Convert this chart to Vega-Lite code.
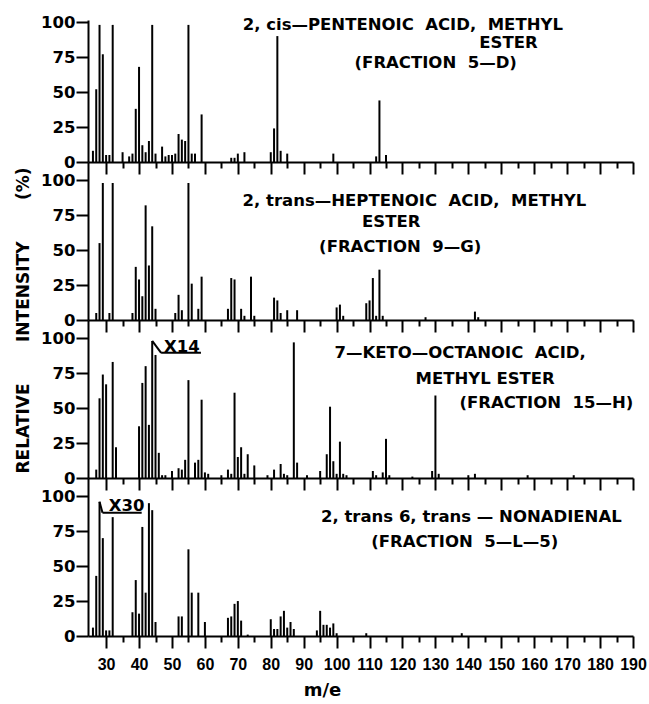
{
  "$schema": "https://vega.github.io/schema/vega-lite/v6.json",
  "padding": {"top": 14, "left": 13, "right": 0, "bottom": 5},
  "background": "white",
  "spacing": 0,
  "bounds": "flush",
  "config": {
    "view": {"stroke": null},
    "font": "DejaVu Sans",
    "axis": {"domainColor": "black", "domainWidth": 2, "tickColor": "black", "tickWidth": 2, "labelColor": "black", "labelFont": "DejaVu Sans", "labelFontWeight": "bold", "titleFont": "DejaVu Sans", "titleFontWeight": "bold", "titleColor": "black", "grid": false, "labelFlush": false},
    "text": {"font": "DejaVu Sans", "fontWeight": "bold", "fontSize": 16.5, "color": "black", "align": "center", "baseline": "middle"},
    "rule": {"color": "black"}
  },
  "datasets": {
    "p1": [{"m":26,"i":8},{"m":27,"i":52},{"m":28,"i":98},{"m":29,"i":77},{"m":30,"i":5},{"m":31,"i":5},{"m":32,"i":98},{"m":35,"i":7},{"m":37,"i":4},{"m":38,"i":6},{"m":39,"i":38},{"m":40,"i":68},{"m":41,"i":12},{"m":42,"i":7},{"m":43,"i":15},{"m":44,"i":98},{"m":45,"i":6},{"m":47,"i":11},{"m":48,"i":4},{"m":49,"i":5},{"m":50,"i":5},{"m":51,"i":6},{"m":52,"i":20},{"m":53,"i":16},{"m":54,"i":15},{"m":55,"i":98},{"m":56,"i":6},{"m":57,"i":6},{"m":59,"i":34},{"m":68,"i":3},{"m":69,"i":3},{"m":70,"i":6},{"m":72,"i":7},{"m":80,"i":7},{"m":81,"i":24},{"m":82,"i":90},{"m":83,"i":8},{"m":85,"i":6},{"m":99,"i":6},{"m":112,"i":4},{"m":113,"i":44},{"m":115,"i":5}],
    "p2": [{"m":27,"i":5},{"m":28,"i":55},{"m":29,"i":98},{"m":31,"i":5},{"m":32,"i":98},{"m":38,"i":5},{"m":39,"i":38},{"m":40,"i":29},{"m":41,"i":17},{"m":42,"i":82},{"m":43,"i":39},{"m":44,"i":67},{"m":45,"i":8},{"m":51,"i":5},{"m":52,"i":18},{"m":53,"i":7},{"m":55,"i":98},{"m":56,"i":26},{"m":58,"i":8},{"m":59,"i":31},{"m":67,"i":8},{"m":68,"i":30},{"m":69,"i":29},{"m":71,"i":8},{"m":72,"i":3},{"m":74,"i":31},{"m":75,"i":3},{"m":81,"i":16},{"m":82,"i":14},{"m":83,"i":5},{"m":85,"i":7},{"m":88,"i":7},{"m":100,"i":9},{"m":101,"i":11},{"m":102,"i":3},{"m":109,"i":12},{"m":110,"i":14},{"m":111,"i":30},{"m":112,"i":3},{"m":113,"i":36},{"m":114,"i":3},{"m":127,"i":2},{"m":142,"i":6},{"m":143,"i":2}],
    "p3": [{"m":27,"i":6},{"m":28,"i":57},{"m":29,"i":74},{"m":30,"i":67},{"m":32,"i":83},{"m":33,"i":22},{"m":40,"i":37},{"m":41,"i":68},{"m":42,"i":80},{"m":43,"i":38},{"m":44,"i":98},{"m":45,"i":88},{"m":46,"i":18},{"m":47,"i":2},{"m":48,"i":2},{"m":50,"i":5},{"m":52,"i":7},{"m":53,"i":6},{"m":54,"i":13},{"m":55,"i":70},{"m":57,"i":11},{"m":58,"i":13},{"m":59,"i":56},{"m":60,"i":4},{"m":61,"i":3},{"m":65,"i":2},{"m":67,"i":6},{"m":68,"i":3},{"m":69,"i":61},{"m":70,"i":15},{"m":71,"i":22},{"m":72,"i":3},{"m":73,"i":17},{"m":75,"i":9},{"m":79,"i":2},{"m":81,"i":6},{"m":83,"i":10},{"m":84,"i":3},{"m":85,"i":2},{"m":87,"i":97},{"m":88,"i":11},{"m":91,"i":2},{"m":95,"i":5},{"m":97,"i":17},{"m":98,"i":51},{"m":99,"i":12},{"m":100,"i":3},{"m":101,"i":26},{"m":102,"i":3},{"m":103,"i":2},{"m":111,"i":5},{"m":112,"i":2},{"m":114,"i":4},{"m":115,"i":28},{"m":116,"i":2},{"m":123,"i":1},{"m":129,"i":5},{"m":130,"i":59},{"m":131,"i":3},{"m":140,"i":2},{"m":142,"i":3},{"m":158,"i":2},{"m":172,"i":2}],
    "p4": [{"m":26,"i":6},{"m":27,"i":43},{"m":28,"i":96},{"m":29,"i":70},{"m":30,"i":4},{"m":31,"i":4},{"m":32,"i":85},{"m":38,"i":17},{"m":39,"i":40},{"m":40,"i":16},{"m":41,"i":78},{"m":42,"i":31},{"m":43,"i":95},{"m":44,"i":90},{"m":45,"i":10},{"m":52,"i":14},{"m":53,"i":14},{"m":55,"i":62},{"m":56,"i":31},{"m":58,"i":31},{"m":60,"i":10},{"m":67,"i":13},{"m":68,"i":14},{"m":69,"i":23},{"m":70,"i":25},{"m":71,"i":11},{"m":73,"i":1},{"m":80,"i":12},{"m":81,"i":5},{"m":82,"i":5},{"m":83,"i":14},{"m":84,"i":18},{"m":85,"i":6},{"m":86,"i":10},{"m":87,"i":5},{"m":94,"i":4},{"m":95,"i":18},{"m":96,"i":8},{"m":97,"i":8},{"m":98,"i":6},{"m":99,"i":9},{"m":100,"i":2},{"m":109,"i":2},{"m":138,"i":2}],
    "t1": [{"m":120.1,"i":98.2,"label":"2, cis—PENTENOIC\u00a0 ACID,\u00a0 METHYL"},{"m":152.2,"i":84.8,"label":"ESTER"},{"m":130.1,"i":71,"label":"(FRACTION\u00a0 5—D)"}],
    "t2": [{"m":123.6,"i":85.3,"label":"2, trans—HEPTENOIC\u00a0 ACID,\u00a0 METHYL"},{"m":116.6,"i":70.3,"label":"ESTER"},{"m":119.3,"i":52.3,"label":"(FRACTION\u00a0 9—G)"}],
    "t3": [{"m":137.5,"i":89.6,"label":"7—KETO—OCTANOIC\u00a0 ACID,"},{"m":145.1,"i":71,"label":"METHYL ESTER"},{"m":163.7,"i":53.8,"label":"(FRACTION\u00a0 15—H)"},{"m":53,"i":93.5,"label":"X14"}],
    "t4": [{"m":140.9,"i":85.3,"label":"2, trans 6, trans — NONADIENAL"},{"m":138.9,"i":67.4,"label":"(FRACTION\u00a0 5—L—5)"},{"m":36.2,"i":93.2,"label":"X30"}],
    "a3": [{"m":44,"i":98,"m2":46.7,"i2":89.5},{"m":46.7,"i":89.5,"m2":58.8,"i2":89.5}],
    "a4": [{"m":28,"i":96,"m2":28.9,"i2":88.2},{"m":28.9,"i":88.2,"m2":40.8,"i2":88.2}]
  },
  "vconcat": [
    {
      "width": 545, "height": 142,
      "encoding": {
        "x": {"field": "m", "type": "quantitative", "scale": {"domain": [24.5, 190], "nice": false, "zero": false},
              "axis": {"values": [30,35,40,45,50,55,60,65,70,75,80,85,90,95,100,105,110,115,120,125,130,135,140,145,150,155,160,165,170,175,180,185,190], "labels": false, "title": null, "tickSize": {"condition": {"test": "datum.value % 10 === 0", "value": 12}, "value": 6}}},
        "y": {"field": "i", "type": "quantitative", "scale": {"domain": [0, 101.5], "nice": false},
              "axis": {"values": [0,25,50,75,100], "tickSize": 12, "labelPadding": 1, "labelFontSize": 16.5, "title": null}}
      },
      "layer": [
        {"data": {"name": "p1"}, "mark": {"type": "rule", "strokeWidth": 2}, "encoding": {"y2": {"datum": 0}}},
        {"data": {"name": "t1"}, "mark": {"type": "text"}, "encoding": {"text": {"field": "label"}}}
      ]
    },
    {
      "width": 545, "height": 158,
      "encoding": {
        "x": {"field": "m", "type": "quantitative", "scale": {"domain": [24.5, 190], "nice": false, "zero": false},
              "axis": {"values": [30,35,40,45,50,55,60,65,70,75,80,85,90,95,100,105,110,115,120,125,130,135,140,145,150,155,160,165,170,175,180,185,190], "labels": false, "title": null, "tickSize": {"condition": {"test": "datum.value % 10 === 0", "value": 12}, "value": 6}}},
        "y": {"field": "i", "type": "quantitative", "scale": {"domain": [0, 113], "nice": false},
              "axis": {"values": [0,25,50,75,100], "tickSize": 12, "labelPadding": 1, "labelFontSize": 16.5, "title": null}}
      },
      "layer": [
        {"data": {"name": "p2"}, "mark": {"type": "rule", "strokeWidth": 2}, "encoding": {"y2": {"datum": 0}}},
        {"data": {"name": "t2"}, "mark": {"type": "text"}, "encoding": {"text": {"field": "label"}}}
      ]
    },
    {
      "width": 545, "height": 158,
      "encoding": {
        "x": {"field": "m", "type": "quantitative", "scale": {"domain": [24.5, 190], "nice": false, "zero": false},
              "axis": {"values": [30,35,40,45,50,55,60,65,70,75,80,85,90,95,100,105,110,115,120,125,130,135,140,145,150,155,160,165,170,175,180,185,190], "labels": false, "title": null, "tickSize": {"condition": {"test": "datum.value % 10 === 0", "value": 12}, "value": 6}}},
        "y": {"field": "i", "type": "quantitative", "scale": {"domain": [0, 113], "nice": false},
              "axis": {"values": [0,25,50,75,100], "tickSize": 12, "labelPadding": 1, "labelFontSize": 16.5,
                       "title": "RELATIVE\u00a0\u00a0\u00a0\u00a0\u00a0\u00a0\u00a0INTENSITY\u00a0\u00a0\u00a0\u00a0\u00a0\u00a0\u00a0(%)",
                       "titleFontSize": 17, "titleX": -65, "titleY": 0, "titleAngle": 270, "titleAlign": "center", "titleBaseline": "middle"}}
      },
      "layer": [
        {"data": {"name": "p3"}, "mark": {"type": "rule", "strokeWidth": 2}, "encoding": {"y2": {"datum": 0}}},
        {"data": {"name": "a3"}, "mark": {"type": "rule", "strokeWidth": 2}, "encoding": {"x2": {"field": "m2"}, "y2": {"field": "i2"}}},
        {"data": {"name": "t3"}, "mark": {"type": "text"}, "encoding": {"text": {"field": "label"}}}
      ]
    },
    {
      "width": 545, "height": 158,
      "encoding": {
        "x": {"field": "m", "type": "quantitative", "scale": {"domain": [24.5, 190], "nice": false, "zero": false},
              "axis": {"values": [30,35,40,45,50,55,60,65,70,75,80,85,90,95,100,105,110,115,120,125,130,135,140,145,150,155,160,165,170,175,180,185,190],
                       "labelExpr": "datum.value % 10 === 0 ? datum.label : ''", "labelFont": "Liberation Sans", "labelFontSize": 16, "labelPadding": 8, "labelOverlap": false, "labelFlush": false,
                       "tickSize": {"condition": {"test": "datum.value % 10 === 0", "value": 12}, "value": 6},
                       "title": "m/e", "titleFontSize": 18, "titleX": 234, "titleY": 54, "titleAlign": "center", "titleBaseline": "middle"}},
        "y": {"field": "i", "type": "quantitative", "scale": {"domain": [0, 113], "nice": false},
              "axis": {"values": [0,25,50,75,100], "tickSize": 12, "labelPadding": 1, "labelFontSize": 16.5, "title": null}}
      },
      "layer": [
        {"data": {"name": "p4"}, "mark": {"type": "rule", "strokeWidth": 2}, "encoding": {"y2": {"datum": 0}}},
        {"data": {"name": "a4"}, "mark": {"type": "rule", "strokeWidth": 2}, "encoding": {"x2": {"field": "m2"}, "y2": {"field": "i2"}}},
        {"data": {"name": "t4"}, "mark": {"type": "text"}, "encoding": {"text": {"field": "label"}}}
      ]
    }
  ]
}
